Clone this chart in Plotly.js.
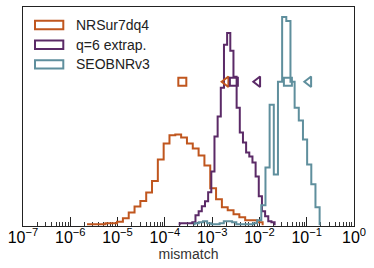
<!DOCTYPE html>
<html><head><meta charset="utf-8">
<script src="https://cdn.plot.ly/plotly-3.0.1.min.js"></script>
<style>html,body{margin:0;padding:0;background:#fff}#chart{width:374px;height:268px}</style>
</head><body><div id="chart"></div>
<script>
// ---- data ----
const seriesNames = ['NRSur7dq4', 'q=6 extrap.', 'SEOBNRv3'];
const seriesColors = ['#c0561e', '#5b2a67', '#5f8f9d'];
// log10 range of the 30 bins of each histogram
const nrsurLogRange = [-5.626, -1.932];
const q6LogRange = [-3.687, -1.679];
const seobLogRange = [-3.370, -0.727];
// bin heights (arbitrary count units)
const nrsurCounts = [1, 1, 1, 2, 2, 3.5, 7, 12.7, 18.7, 24.3, 32.7, 44.3, 66, 82, 90.3, 91, 88, 82, 77, 70, 60, 37, 26, 18, 15, 11, 8, 5, 5, 3];
const q6Counts = [2, 2, 2, 2, 3, 10, 14, 19, 24, 33, 54, 89, 109, 138, 181, 193, 175, 149, 118, 93, 83, 73, 69, 63, 49, 29, 14, 9, 4, 3];
const seobCounts = [2, 3, 4, 2, 1, 1, 2, 4, 4, 3, 1, 1, 1, 1, 2, 5, 20, 58, 121, 51, 144, 209, 205, 144, 118, 105, 86, 61, 41, 18];
// summary markers
const markerLevel = 144;
const squareX = [2.34e-4, 2.88e-3, 4.0e-2];
const triangleX = [1.98e-3, 9.25e-3, 0.111];
// axis ticks
const tickVals = [1e-7, 1e-6, 1e-5, 1e-4, 1e-3, 1e-2, 1e-1, 1];
const tickText = ['10<sup>\u22127</sup>', '10<sup>\u22126</sup>', '10<sup>\u22125</sup>', '10<sup>\u22124</sup>', '10<sup>\u22123</sup>', '10<sup>\u22122</sup>', '10<sup>\u22121</sup>', '10<sup>0</sup>'];
const xLabel = 'mismatch';

// ---- build ----
function stepTrace(range, counts, color) {
  const n = counts.length;
  const edges = [];
  for (let i = 0; i <= n; i++) edges.push(Math.pow(10, range[0] + (range[1] - range[0]) * i / n));
  const xs = [edges[0]], ys = [0];
  for (let i = 0; i < n; i++) { xs.push(edges[i]); ys.push(counts[i]); }
  xs.push(edges[n]); ys.push(0);
  return {type: 'scatter', mode: 'lines', x: xs, y: ys, line: {shape: 'hv', color: color, width: 2}, showlegend: false, hoverinfo: 'skip'};
}
const ranges = [nrsurLogRange, q6LogRange, seobLogRange];
const counts = [nrsurCounts, q6Counts, seobCounts];
const traces = [];
for (let s = 0; s < 3; s++) traces.push(stepTrace(ranges[s], counts[s], seriesColors[s]));
for (let s = 0; s < 3; s++) {
  traces.push({type: 'scatter', mode: 'markers', x: [squareX[s]], y: [markerLevel], cliponaxis: false,
    marker: {symbol: 'square-open', size: 8, color: seriesColors[s], line: {width: 2, color: seriesColors[s]}}, showlegend: false});
  traces.push({type: 'scatter', mode: 'markers', x: [triangleX[s]], y: [markerLevel], cliponaxis: false,
    marker: {symbol: 'triangle-left-open', size: 9, color: seriesColors[s], line: {width: 2, color: seriesColors[s]}}, showlegend: false});
}

// manual legend (pixel -> paper)
const plotL = 23, plotW = 331, plotB = 226, plotH = 219;
const px = v => (v - plotL) / plotW;
const py = v => (plotB - v) / plotH;
const rowY = [25, 44.7, 64.4];
const shapes = [], annotations = [];
for (let s = 0; s < 3; s++) {
  shapes.push({type: 'rect', xref: 'paper', yref: 'paper', x0: px(35), x1: px(63.3), y0: py(rowY[s] + 4.2), y1: py(rowY[s] - 4.2),
    line: {color: seriesColors[s], width: 2}, fillcolor: 'rgba(0,0,0,0)'});
  annotations.push({xref: 'paper', yref: 'paper', x: px(74), y: py(rowY[s]), xanchor: 'left', yanchor: 'middle', showarrow: false,
    text: seriesNames[s], font: {family: 'Liberation Sans, Arial, sans-serif', size: 14, color: '#222'}});
}

const layout = {
  width: 374, height: 268,
  margin: {l: plotL, r: 374 - plotL - plotW, t: plotB - plotH, b: 268 - plotB},
  paper_bgcolor: '#fff', plot_bgcolor: '#fff',
  showlegend: false,
  font: {family: 'Liberation Sans, Arial, sans-serif', size: 14, color: '#000'},
  xaxis: {type: 'log', range: [-7, 0], tickmode: 'array', tickvals: tickVals, ticktext: tickText,
    ticks: 'inside', ticklen: 9, tickwidth: 1, tickcolor: '#222', ticklabelstandoff: -3,
    minor: {ticks: 'inside', ticklen: 4.5, tickwidth: 1, tickcolor: '#333', dtick: 'D1'},
    showline: true, mirror: true, linecolor: '#222', linewidth: 1, showgrid: false, zeroline: false,
    tickfont: {size: 16, color: '#000'},
    title: {text: xLabel, font: {size: 14, color: '#333'}, standoff: 2},
    layer: 'below traces'},
  yaxis: {range: [-0.8, 219], showticklabels: false, ticks: '', showgrid: false, zeroline: false,
    showline: true, mirror: true, linecolor: '#222', linewidth: 1, layer: 'below traces'},
  shapes: shapes, annotations: annotations
};
Plotly.newPlot('chart', traces, layout, {staticPlot: true, displayModeBar: false});
</script>
</body></html>
